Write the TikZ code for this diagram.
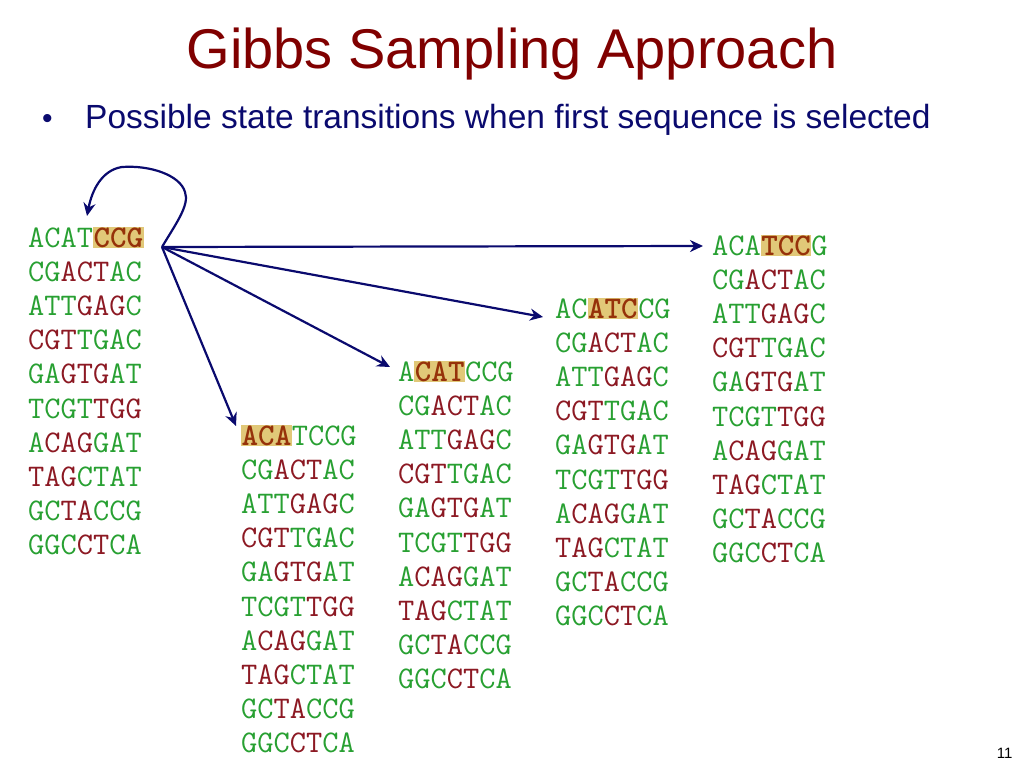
\documentclass[tikz,border=0pt]{standalone}
\usepackage{fontspec}
\setmainfont{Liberation Sans}
\usetikzlibrary{arrows.meta}
\definecolor{sgreen}{RGB}{40,160,50}
\definecolor{sred}{RGB}{140,25,35}
\definecolor{hlbg}{RGB}{225,200,120}
\definecolor{hltext}{RGB}{150,50,10}
\definecolor{navyc}{RGB}{10,10,110}
\definecolor{titlec}{RGB}{128,0,0}
\newcommand\Gx[1]{\textcolor{sgreen}{#1}}
\newcommand\Rx[1]{\textcolor{sred}{#1}}
\newcommand\Hx[1]{{\setlength\fboxsep{0.5pt}\colorbox{hlbg}{\textcolor{hltext}{\bfseries #1}}}}
\begin{document}
\begin{tikzpicture}[x=1pt,y=-1pt,
  seq/.style={anchor=base west,inner sep=0pt,font=\ttfamily\fontsize{31.5}{34}\selectfont},
  arr/.style={draw=navyc,line width=2.2pt,-{Stealth[length=13pt,width=12pt]}}]
\useasboundingbox (0,0) rectangle (1024,768);
\node[anchor=base,inner sep=0pt,text=titlec,font=\fontsize{56}{60}\selectfont] (title) at (512,68) {Gibbs Sampling Approach};
\node[anchor=base west,inner sep=0pt,text=navyc,font=\fontsize{30}{32}\selectfont] (bdot) at (42,128) {\textbullet};
\node[anchor=base west,inner sep=0pt,text=navyc,font=\fontsize{33.5}{36}\selectfont] (bul) at (85,128) {Possible state transitions when first sequence is selected};
\node[anchor=base east,font=\fontsize{15}{17}\selectfont] (pg) at (1016,758) {11};
% first rows
\node[seq] (r1) at (28,247) {\Gx{ACAT}\Hx{CCG}};
\node[seq] (r2) at (241,445) {\Hx{ACA}\Gx{TCCG}};
\node[seq] (r3) at (398,381) {\Gx{A}\Hx{CAT}\Gx{CCG}};
\node[seq] (r4) at (555,318) {\Gx{AC}\Hx{ATC}\Gx{CG}};
\node[seq] (r5) at (712,255) {\Gx{ACA}\Hx{TCC}\Gx{G}};
\foreach \c/\x/\y in {1/28/247,2/241/445,3/398/381,4/555/318,5/712/255}{
  \foreach \i/\s in {1/{\Gx{CG}\Rx{ACT}\Gx{AC}},
                     2/{\Gx{ATT}\Rx{GAG}\Gx{C}},
                     3/{\Rx{CGT}\Gx{TGAC}},
                     4/{\Gx{GA}\Rx{GTG}\Gx{AT}},
                     5/{\Gx{TCGT}\Rx{TGG}},
                     6/{\Gx{A}\Rx{CAG}\Gx{GAT}},
                     7/{\Rx{TAG}\Gx{CTAT}},
                     8/{\Gx{GC}\Rx{TA}\Gx{CCG}},
                     9/{\Gx{GGC}\Rx{CT}\Gx{CA}}}{
    \node[seq] (c\c l\i) at (\x,\y+34.2*\i) {\s};
  }
}
\coordinate (src) at (162,247);
\coordinate (t5) at (703,246);
\coordinate (t4) at (543,317);
\coordinate (t3) at (390,367);
\coordinate (t2) at (236,426);
\coordinate (t1) at (87,216);
\draw[arr] (src) -- (t5);
\draw[arr] (src) -- (t4);
\draw[arr] (src) -- (t3);
\draw[arr] (src) -- (t2);
\draw[arr] (src) .. controls (175,225) and (190,205) .. (185,192) .. controls (180,175) and (150,165) .. (122,167) .. controls (102,170) and (92,190) .. (t1);
\end{tikzpicture}
\end{document}
